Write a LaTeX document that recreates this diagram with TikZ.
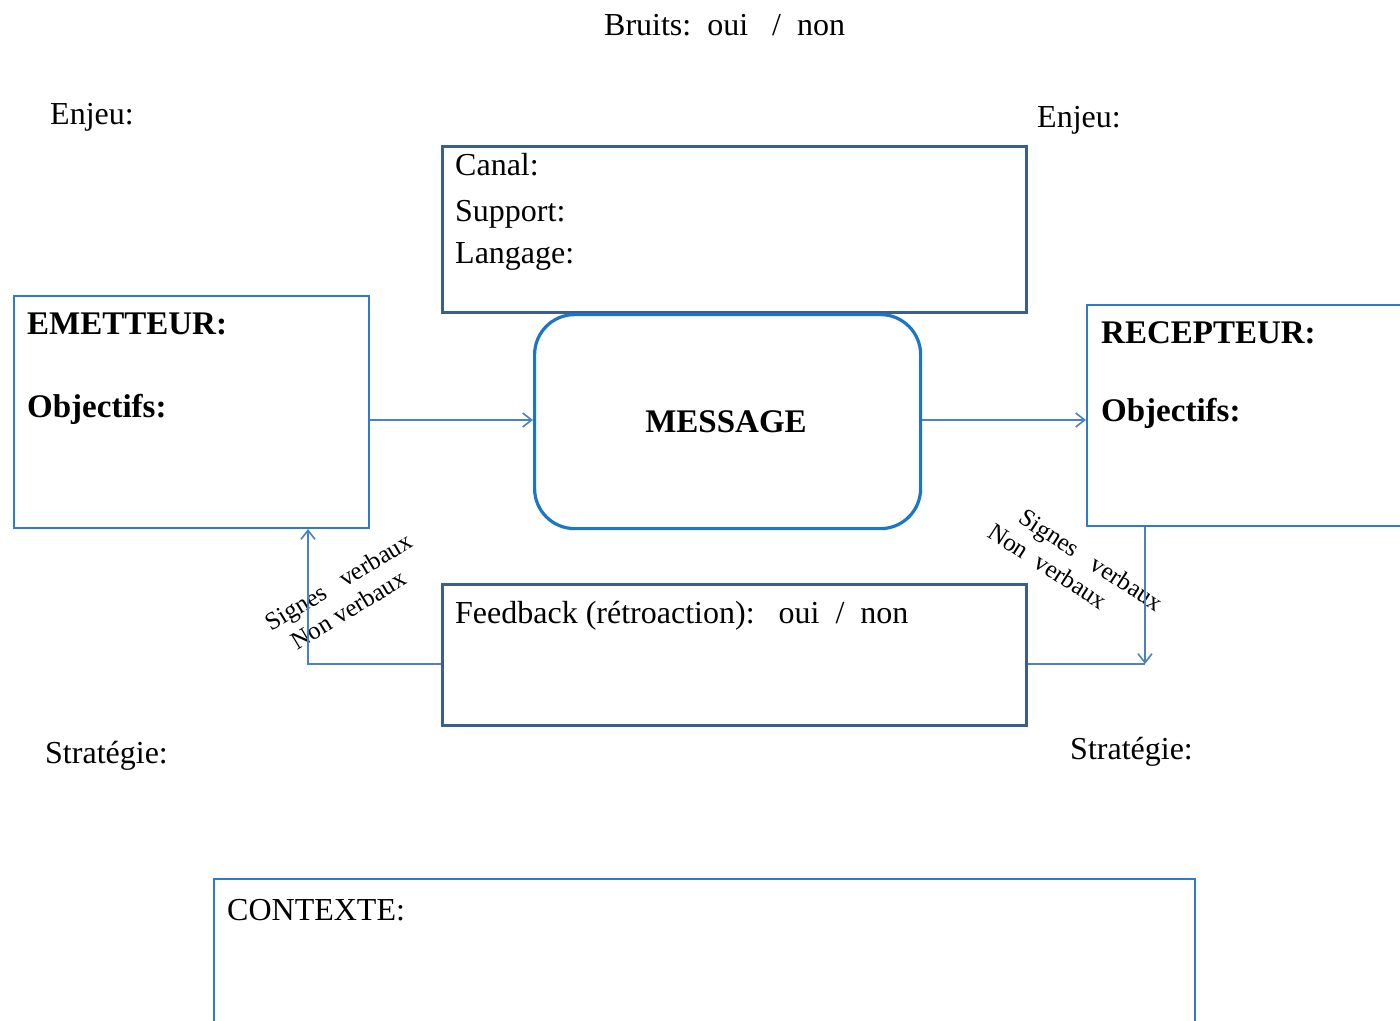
\documentclass[tikz,border=0pt]{standalone}
\usepackage{fontspec}
\setmainfont{Liberation Serif}
\usetikzlibrary{arrows.meta}
\definecolor{darkbox}{HTML}{3A5F8F}
\definecolor{lightbox}{HTML}{2E7CC8}
\definecolor{msgblue}{HTML}{1A76C8}
\definecolor{arrowblue}{HTML}{4A80C4}
\tikzset{
  txt/.style={anchor=base west, inner sep=0pt, font=\fontsize{32}{36}\selectfont},
  btxt/.style={anchor=base west, inner sep=0pt, font=\fontsize{33}{38}\selectfont\bfseries},
  darkframe/.style={draw=darkbox, line width=3.2pt},
  lightframe/.style={draw=lightbox, line width=2pt},
  conn/.style={draw=arrowblue, line width=1.6pt},
  tip/.style={-{Straight Barb[length=9pt,width=14pt,line width=1.6pt]}},
  rot/.style={inner sep=0pt, align=left, font=\fontsize{25}{29}\selectfont}
}
\begin{document}
\begin{tikzpicture}[x=1pt,y=-1pt]
\useasboundingbox (0,0) rectangle (1400,1020);
% boxes
\node[darkframe, minimum width=584pt, minimum height=166pt, anchor=north west, inner sep=0pt] (canal) at (441,145) {};
\node[lightframe, minimum width=355pt, minimum height=232pt, anchor=north west, inner sep=0pt] (emet) at (13,295) {};
\node[draw=msgblue, line width=3.2pt, rounded corners=40pt, minimum width=386pt, minimum height=214pt, anchor=north west, inner sep=0pt] (msg) at (533,313) {};
\node[lightframe, minimum width=330pt, minimum height=221pt, anchor=north west, inner sep=0pt] (recep) at (1086,304) {};
\node[darkframe, minimum width=584pt, minimum height=141pt, anchor=north west, inner sep=0pt] (feed) at (441,583) {};
\node[lightframe, minimum width=981pt, minimum height=160pt, anchor=north west, inner sep=0pt] (ctx) at (213,878) {};
% texts
\node[txt] (bruits) at (604,35) {Bruits:\ \ oui\ \ \ /\ \ non};
\node[txt] (enjeuL) at (50,124) {Enjeu:};
\node[txt] (enjeuR) at (1037,127) {Enjeu:};
\node[txt] (canalT) at (455,175) {Canal:};
\node[txt] (suppT) at (455,221) {Support:};
\node[txt] (langT) at (455,263) {Langage:};
\node[btxt] (emetT) at (27,334) {EMETTEUR:};
\node[btxt] (objL) at (27,417) {Objectifs:};
\node[btxt] (msgT) at (726,432) [anchor=base] {MESSAGE};
\node[btxt] (recT) at (1101,343) {RECEPTEUR:};
\node[btxt] (objR) at (1101,421) {Objectifs:};
\node[txt] (feedT) at (455,623) {Feedback (rétroaction):\ \ \ oui\ \ /\ \ non};
\node[txt] (stratL) at (45,763) {Stratégie:};
\node[txt] (stratR) at (1070,759) {Stratégie:};
\node[txt] (ctxT) at (227,920) {CONTEXTE:};
\node[rot, rotate=31] (labL) at (346,594) {Signes\ \ \ verbaux\\\hspace*{12pt}Non verbaux};
\node[rot, rotate=-33] (labR) at (1076,567) {\hspace*{18pt}Signes\ \ \ verbaux\\Non\ \ verbaux};
% connectors
\coordinate (bendL) at (308,664);
\coordinate (bendR) at (1145,664);
\path[conn, tip] (emet.east |- 0,420) -- (msg.west |- 0,420);
\path[conn, tip] (msg.east |- 0,420) -- (recep.west |- 0,420);
\path[conn, tip] (feed.west |- bendL) -- (bendL) -- (bendL |- emet.south);
\path[conn, tip] (bendR |- recep.south) -- (bendR);
\path[conn] (feed.east |- bendR) -- (bendR);
\end{tikzpicture}
\end{document}
